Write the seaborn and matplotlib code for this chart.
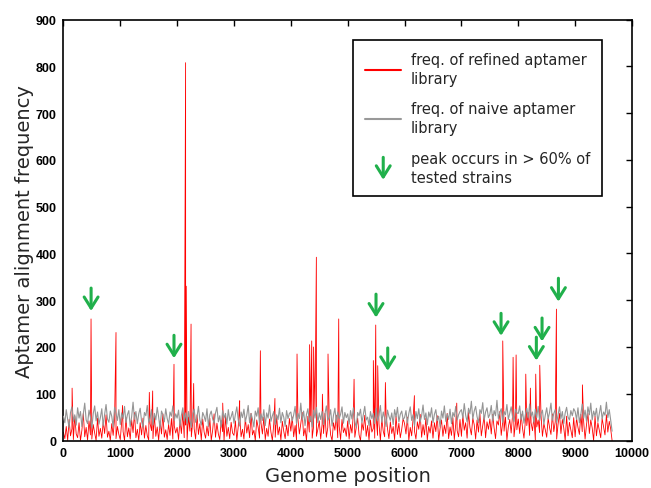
import matplotlib
matplotlib.use("Agg")
import matplotlib.pyplot as plt
from matplotlib.lines import Line2D
from matplotlib.patches import FancyArrowPatch
from matplotlib.legend_handler import HandlerBase
import numpy as np
import pandas as pd
import seaborn as sns

# background positions (every 25 bases, 0..9650)
base_pos = list(range(0, 9651, 25))

# naive library frequency
naive_freq = [
    52, 38, 66, 45, 28, 60, 72, 41, 55, 33,
    70, 48, 62, 30, 57, 80, 44, 36, 65, 50,
    27, 58, 74, 42, 61, 35, 49, 68, 31, 56,
    77, 46, 39, 63, 52, 29, 71, 58, 43, 66,
    34, 59, 47, 73, 38, 55, 64, 30, 51, 82,
    45, 62, 36, 57, 69, 41, 28, 60, 53, 75,
    39, 48, 66, 33, 58, 44, 71, 50, 26, 63,
    55, 40, 68, 47, 35, 61, 52, 74, 43, 57,
    48, 65, 31, 54, 70, 42, 59, 36, 62, 45,
    28, 57, 67, 39, 50, 73, 44, 33, 60, 52,
    41, 68, 30, 55, 63, 46, 37, 59, 71, 40,
    53, 29, 64, 48, 58, 35, 66, 43, 51, 62,
    37, 56, 72, 44, 31, 61, 49, 67, 40, 54,
    75, 38, 58, 46, 29, 63, 52, 70, 35, 57,
    43, 66, 32, 59, 48, 76, 41, 53, 62, 34,
    55, 45, 69, 38, 60, 50, 30, 64, 47, 58,
    61, 42, 55, 73, 36, 58, 47, 80, 44, 63,
    32, 56, 68, 40, 52, 29, 65, 48, 71, 38,
    59, 45, 62, 34, 57, 74, 43, 50, 66, 31,
    54, 69, 39, 61, 47, 56, 72, 37, 60, 49,
    57, 35, 64, 46, 70, 41, 28, 60, 53, 67,
    38, 55, 73, 44, 50, 32, 62, 47, 58, 36,
    69, 42, 54, 75, 39, 61, 48, 30, 65, 52,
    43, 59, 34, 66, 50, 71, 40, 56, 63, 45,
    49, 64, 37, 58, 72, 43, 55, 31, 62, 47,
    68, 40, 53, 76, 45, 59, 34, 61, 50, 70,
    38, 56, 66, 42, 52, 29, 63, 48, 74, 41,
    57, 45, 67, 36, 60, 51, 73, 44, 55, 62,
    66, 48, 79, 54, 40, 69, 57, 84, 46, 63,
    73, 51, 38, 66, 58, 81, 44, 61, 70, 49,
    56, 75, 42, 64, 53, 86, 47, 60, 68, 39,
    62, 55, 77, 45, 58, 72, 50, 41, 67, 59,
    58, 74, 44, 63, 37, 56, 69, 48, 78, 52,
    61, 39, 67, 49, 73, 42, 57, 65, 35, 54,
    70, 46, 60, 80, 43, 58, 66, 38, 55, 72,
    47, 62, 36, 59, 71, 50, 44, 64, 53, 68,
    62, 45, 70, 38, 56, 78, 48, 65, 41, 72,
    55, 80, 44, 63, 52, 69, 40, 58, 75, 46,
    61, 54, 82, 49, 66, 44, 20,
]

# refined library background level (red trace between the peaks)
refined_base = [
    18, 4, 30, 0, 45, 10, 25, 2, 52, 14,
    6, 38, 0, 22, 58, 8, 28, 1, 42, 12,
    3, 34, 16, 0, 48, 9, 26, 5, 40, 15,
    55, 7, 20, 0, 36, 11, 46, 4, 30, 13,
    2, 40, 19, 0, 50, 8, 27, 3, 44, 17,
    60, 6, 24, 0, 38, 12, 48, 5, 32, 10,
    1, 36, 21, 4, 54, 9, 29, 0, 42, 14,
    57, 7, 23, 2, 35, 11, 47, 3, 31, 16,
    28, 2, 44, 15, 60, 6, 33, 0, 51, 20,
    8, 40, 25, 3, 55, 13, 36, 1, 46, 18,
    5, 31, 10, 48, 0, 22, 57, 7, 37, 14,
    2, 43, 19, 0, 52, 9, 28, 4, 39, 16,
    11, 42, 0, 30, 55, 8, 24, 3, 48, 16,
    34, 6, 58, 12, 22, 0, 44, 28, 5, 38,
    14, 50, 2, 26, 9, 46, 18, 0, 36, 7,
    53, 12, 29, 1, 41, 20, 4, 33, 10, 47,
    20, 50, 8, 32, 1, 46, 14, 36, 60, 10,
    26, 0, 52, 18, 40, 5, 30, 56, 9, 24,
    42, 3, 35, 15, 58, 7, 28, 48, 12, 0,
    38, 22, 54, 6, 31, 2, 45, 17, 27, 9,
    42, 3, 34, 16, 58, 7, 28, 48, 12, 0,
    38, 22, 54, 9, 32, 1, 44, 18, 26, 5,
    50, 11, 36, 0, 46, 20, 8, 56, 25, 4,
    40, 15, 30, 2, 52, 13, 37, 6, 24, 47,
    36, 14, 50, 0, 28, 10, 46, 20, 3, 40,
    24, 56, 7, 34, 12, 48, 1, 30, 16, 42,
    5, 38, 19, 53, 0, 26, 44, 9, 33, 15,
    58, 4, 29, 11, 49, 2, 35, 21, 8, 45,
    9, 54, 22, 38, 5, 60, 28, 12, 48, 34,
    3, 44, 18, 58, 10, 32, 52, 6, 40, 24,
    46, 14, 56, 27, 4, 42, 33, 62, 11, 38,
    20, 50, 1, 29, 45, 16, 55, 8, 36, 23,
    46, 15, 56, 26, 5, 42, 32, 60, 11, 38,
    21, 50, 1, 29, 44, 17, 54, 9, 36, 23,
    7, 48, 28, 13, 57, 19, 40, 3, 35, 58,
    15, 45, 27, 0, 52, 10, 39, 22, 6, 49,
    8, 48, 28, 13, 56, 19, 40, 3, 34, 58,
    15, 44, 27, 0, 52, 10, 38, 22, 6, 47,
    30, 12, 55, 18, 41, 25, 0,
]

# refined library peaks
peak_pos = [153, 486, 925, 1040, 1511, 1570, 1945, 2149, 2160, 2245, 2291, 2802,
            3100, 3464, 3720, 4109, 4330, 4367, 4400, 4449, 4555, 4654, 4842,
            5112, 5451, 5493, 5528, 5663, 6173, 6918, 7727, 7909, 7962, 8132,
            8213, 8307, 8378, 8671, 9128]
peak_freq = [112, 260, 231, 75, 103, 106, 163, 808, 330, 249, 122, 80,
             85, 192, 90, 185, 205, 213, 200, 392, 99, 185, 260,
             131, 171, 247, 160, 124, 96, 80, 213, 178, 183, 142,
             112, 142, 161, 281, 119]

# green arrows: x position, tip and tail heights
arrow_x = [487, 1945, 5498, 5704, 7697, 8318, 8418, 8706]
arrow_tip = [277, 176, 263, 149, 224, 171, 212, 297]
arrow_top = [326, 225, 313, 198, 272, 221, 262, 347]

refined = pd.DataFrame({'pos': base_pos + peak_pos, 'freq': refined_base + peak_freq})
refined = refined.sort_values('pos')
naive = pd.DataFrame({'pos': base_pos, 'freq': naive_freq})

green = '#20b04b'

sns.set_style('white')
plt.rcParams['font.family'] = ['DejaVu Sans']

fig = plt.figure(figsize=(6.51, 4.89), dpi=100)
ax = fig.add_axes([0.0974, 0.0971, 0.8734, 0.8606])

sns.lineplot(data=refined, x='pos', y='freq', ax=ax, color='#ff0000', lw=0.6,
             estimator=None, sort=False, zorder=2)
sns.lineplot(data=naive, x='pos', y='freq', ax=ax, color='#959595', lw=0.8,
             estimator=None, sort=False, zorder=3)

for x, t, s in zip(arrow_x, arrow_tip, arrow_top):
    ax.annotate('', xy=(x, t), xytext=(x, s),
                arrowprops=dict(arrowstyle='->,head_length=0.4,head_width=0.25',
                                color=green, lw=2.2, mutation_scale=20,
                                shrinkA=0, shrinkB=0))

ax.set_xlim(0, 10000)
ax.set_ylim(0, 900)
ax.set_xticks(range(0, 10001, 1000))
ax.set_yticks(range(0, 901, 100))
ax.tick_params(direction='in', length=4, width=1, top=True, right=True,
               labelsize=9, pad=5, colors='black')
for lab in ax.get_xticklabels() + ax.get_yticklabels():
    lab.set_fontfamily('Liberation Sans')
    lab.set_fontweight('bold')
for sp in ax.spines.values():
    sp.set_color('black')
    sp.set_linewidth(1.2)

ax.set_xlabel('Genome position', fontsize=14, labelpad=5)
ax.set_ylabel('Aptamer alignment frequency', fontsize=14, labelpad=1)


class ArrowHandler(HandlerBase):
    def create_artists(self, legend, orig_handle, xdescent, ydescent,
                       width, height, fontsize, trans):
        cx = width / 2 - xdescent
        arr = FancyArrowPatch((cx, height * 1.6), (cx, -height * 0.6),
                              arrowstyle='->,head_length=0.4,head_width=0.25',
                              color=green, lw=2.2, mutation_scale=20,
                              shrinkA=0, shrinkB=0, transform=trans)
        return [arr]


h_red = Line2D([], [], color='#ff0000', lw=1.5)
h_grey = Line2D([], [], color='#999999', lw=1.5)
h_arrow = Line2D([], [], color=green)
leg = ax.legend([h_red, h_grey, h_arrow],
                ['freq. of refined aptamer\nlibrary',
                 'freq. of naive aptamer\nlibrary',
                 'peak occurs in > 60% of\ntested strains'],
                handler_map={h_arrow: ArrowHandler()},
                loc='upper right', bbox_to_anchor=(0.947, 0.952),
                borderaxespad=0, fontsize=10.5, handlelength=2.5,
                handletextpad=0.65, labelspacing=1.05, borderpad=0.8,
                fancybox=False, framealpha=1, edgecolor='black')
for t in leg.get_texts():
    t.set_linespacing(1.35)
leg.get_frame().set_linewidth(1.2)

fig.savefig('out.png', dpi=100)
